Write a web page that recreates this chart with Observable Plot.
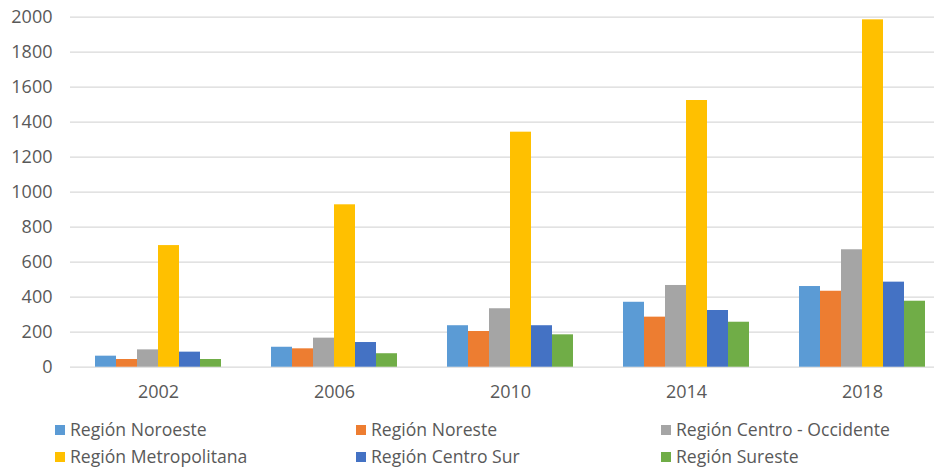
<!DOCTYPE html>
<html><head><meta charset="utf-8">
<script src="https://cdn.jsdelivr.net/npm/d3@7"></script>
<script src="https://cdn.jsdelivr.net/npm/@observablehq/plot@0.6"></script>
<style>
body{margin:0;background:#fff;font-family:"Open Sans",sans-serif;}
#wrap{position:relative;width:934px;height:469px;overflow:hidden;}
#legend{position:absolute;left:55px;top:416px;display:grid;grid-template-columns:301px 305px auto;line-height:27px;font-size:17.6px;color:#595959;}
.item{display:flex;align-items:center;white-space:nowrap}
.sw{width:10px;height:10px;margin-right:5px;display:inline-block;flex:none}
</style></head><body><div id="wrap"></div>
<script>
const years = ["2002", "2006", "2010", "2014", "2018"];
const regions = ["Región Noroeste", "Región Noreste", "Región Centro - Occidente", "Región Metropolitana", "Región Centro Sur", "Región Sureste"];
const colors = ["#5B9BD5", "#ED7D31", "#A5A5A5", "#FFC000", "#4472C4", "#70AD47"];
const noroeste = [63, 114, 237, 371, 461];
const noreste = [44, 105, 204, 286, 434];
const centroOccidente = [99, 166, 334, 467, 671];
const metropolitana = [695, 928, 1343, 1524, 1985];
const centroSur = [86, 141, 237, 324, 486];
const sureste = [44, 77, 185, 257, 377];
const yTicks = [0, 200, 400, 600, 800, 1000, 1200, 1400, 1600, 1800, 2000];

const series = [noroeste, noreste, centroOccidente, metropolitana, centroSur, sureste];
const data = [];
years.forEach((y, i) => regions.forEach((r, j) => data.push({year: y, region: r, value: series[j][i]})));

const chart = Plot.plot({
  width: 934, height: 405,
  marginTop: 16.7, marginBottom: 38.3, marginLeft: 68, marginRight: 0,
  style: {fontFamily: "Open Sans", fontSize: "18px", color: "#595959", background: "transparent"},
  facet: {data, x: "year"},
  fx: {domain: years, range: [68.25, 950.75], padding: 0, label: null, axis: "bottom", tickSize: 0, tickPadding: 18},
  x: {domain: regions, axis: null, paddingInner: 0, paddingOuter: 1.12},
  y: {domain: [0, 2000], ticks: yTicks, tickSize: 0, tickPadding: 18, label: null, tickFormat: d => String(d)},
  color: {domain: regions, range: colors},
  marks: [
    Plot.ruleY(yTicks, {stroke: "#d9d9d9", strokeWidth: 1.3}),
    Plot.barY(data, {x: "region", y: "value", fill: "region"})
  ]
});
const wrap = document.getElementById("wrap");
wrap.appendChild(chart);

const legend = document.createElement("div");
legend.id = "legend";
regions.forEach((r, j) => {
  const it = document.createElement("div");
  it.className = "item";
  const sw = document.createElement("span");
  sw.className = "sw";
  sw.style.background = colors[j];
  it.appendChild(sw);
  it.appendChild(document.createTextNode(r));
  legend.appendChild(it);
});
wrap.appendChild(legend);
</script>
</body></html>
